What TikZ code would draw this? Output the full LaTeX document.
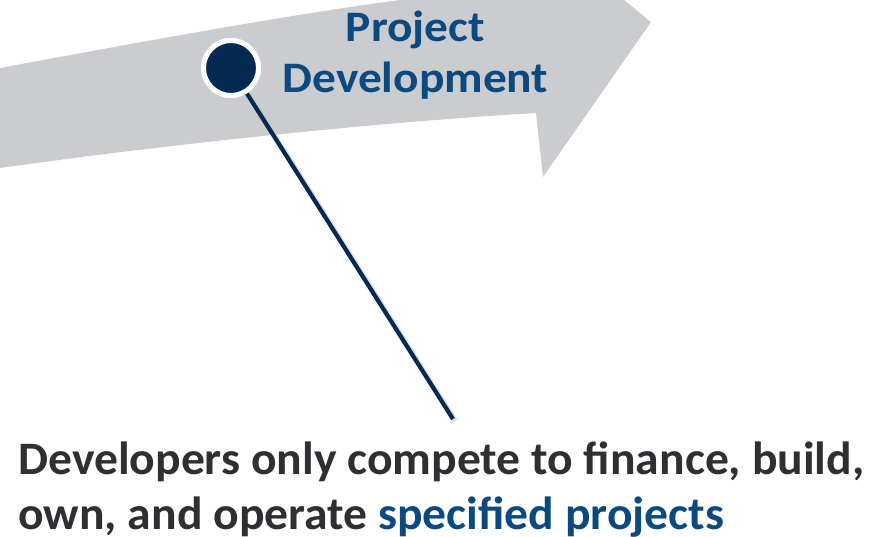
\documentclass[tikz,border=0pt]{standalone}
\usepackage{fontspec}
\setmainfont{Carlito}
\newfontfamily\titlefont[FakeStretch=1.09]{Carlito}
\newfontfamily\bodyfont[FakeStretch=1.025]{Carlito}
\definecolor{band}{HTML}{CBCCD0}
\definecolor{navy}{HTML}{022A52}
\definecolor{titleblue}{HTML}{0B4A80}
\definecolor{textgrey}{HTML}{2E2E33}
\tikzset{
  titletext/.style={font=\titlefont\fontsize{43.5}{51}\selectfont\bfseries, text=titleblue, align=center, inner sep=0pt, anchor=base},
  bodytext/.style={font=\bodyfont\fontsize{46.5}{55}\selectfont\bfseries, text=textgrey, align=left, inner sep=0pt, anchor=base west},
  dot/.style={circle, fill=navy, draw=white, line width=5pt, minimum size=55pt, inner sep=0pt},
  pointer/.style={draw=navy, line width=4.2pt},
  pshadow/.style={draw=black!25, line width=5pt, opacity=0.5}
}
\begin{document}
\begin{tikzpicture}[x=1pt,y=-1pt]
\useasboundingbox (0,0) rectangle (886,537);
\begin{scope}
\clip (0,0) rectangle (886,537);
\fill[band] (0,68) .. controls (130,44) and (280,16) .. (400,0) -- (597,-22) -- (651,22) -- (543,177) -- (536,113)
  .. controls (400,121) and (200,140) .. (0,168) -- cycle;
\end{scope}
\node[titletext] (title) at (415.5,93) {Project\\Development};
\node[dot] (dot) at (231,68) {};
\coordinate (tip) at (453,419);
\draw[pshadow] ([shift={(2.5,2)}]dot.-58) -- ([shift={(2.5,2)}]tip);
\draw[pointer] (dot.-58) -- (tip);
\node[dot] at (dot) {};
\node[bodytext] (body) at (18,529) {Developers only compete to finance, build,\\own, and operate \textcolor{titleblue}{specified projects}};
\end{tikzpicture}
\end{document}
